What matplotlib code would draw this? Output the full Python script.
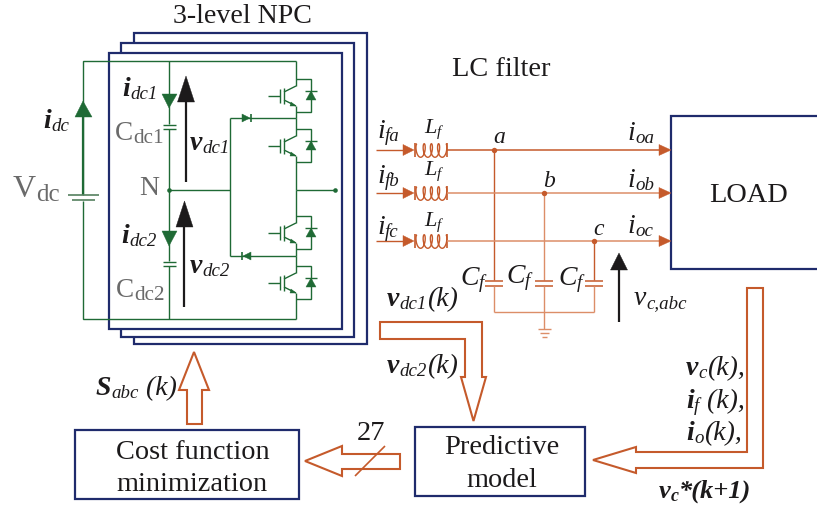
import numpy as np
import matplotlib
matplotlib.use("Agg")
import matplotlib.pyplot as plt
from matplotlib.patches import Polygon, Rectangle

W, H = 817, 506
NAVY, GREEN, ORANGE, LORANGE, BLACK, GREY = "#1f2b6c", "#1f6a35", "#c55a2b", "#dc8e68", "#1c1a1b", "#6a6a6a"

title_text = "3-level NPC"
filter_text = "LC filter"
load_text = "LOAD"
cost_text = ["Cost function", "minimization"]
model_text = ["Predictive", "model"]
bits_text = "27"

plt.rcParams["font.family"] = ["Liberation Serif", "DejaVu Serif"]
fig = plt.figure(figsize=(W / 100, H / 100), dpi=100)
ax = fig.add_axes([0, 0, 1, 1])
ax.set_xlim(0, W)
ax.set_ylim(H, 0)
ax.axis("off")
rend = fig.canvas.get_renderer()


def line(xs, ys, c=GREEN, lw=1.0, z=3):
    ax.plot(xs, ys, color=c, lw=lw, solid_capstyle="butt", solid_joinstyle="miter", zorder=z)


def tri(pts, c=GREEN, z=4):
    ax.add_patch(Polygon(pts, closed=True, fc=c, ec=c, lw=0.3, zorder=z))


def dot(x, y, c=GREEN, s=2.2):
    ax.plot([x], [y], "o", color=c, ms=s * 1.5, mew=0, zorder=5)


def rich(x, y, parts, size=16, color=BLACK, ratio=0.68):
    """Place text pieces one after the other; baseline at y, sub pieces are smaller and lowered."""
    for txt, st, sub in parts:
        fs = size * (ratio if sub else 1)
        dy = size * 0.16 if sub else 0
        t = ax.text(x, y + dy, txt, fontsize=fs, color=color, va="baseline", ha="left",
                    fontstyle="normal" if st == "r" else "italic",
                    fontweight="bold" if st == "b" else "normal", zorder=6)
        x = t.get_window_extent(rend).x1 + 0.3


# stacked converter frames
for (x0, y0, x1, y1) in [(134, 34, 367, 345), (121, 44, 354, 338), (109, 54, 342, 330)]:
    ax.add_patch(Rectangle((x0, y0), x1 - x0, y1 - y0, fc="white", ec=NAVY, lw=1.6, zorder=2))

# DC side
line([83, 83, 296], [196, 62, 62], lw=1.0)
line([83, 83, 296], [202, 320, 320], lw=1.0)
line([83, 83], [196, 118], lw=1.6)
tri([(83, 102), (75, 118), (92, 118)])
line([68, 99], [196, 196], c="#55805f", lw=1.2)
line([72, 95], [201, 201], c="#55805f", lw=1.2)
line([169, 169], [62, 125], lw=1.0)
line([169, 169], [130, 262], lw=1.0)
line([169, 169], [267, 320], lw=1.0)
for yc in (126, 263):
    line([163, 176], [yc, yc], lw=1.0)
    line([163, 176], [yc + 4, yc + 4], lw=1.0)
tri([(169, 109), (162, 95), (177, 95)])
tri([(169, 247), (162, 232), (177, 232)])
dot(169, 191)
line([169, 230], [191, 191])
line([230, 230], [119, 257])
line([230, 296], [119, 119])
line([230, 296], [257, 257])
tri([(242, 115), (242, 123), (250, 119)])
line([251, 251], [115, 123], lw=1.2)
tri([(251, 253), (251, 261), (243, 257)])
line([242, 242], [253, 261], lw=1.2)
line([296, 335], [191, 191])
dot(335, 191)

# switches
for c, top, bot in [(97, 62, 119), (147, 119, 191), (234, 191, 257), (284, 257, 320)]:
    line([296, 296], [top, c - 10])
    line([296, 296], [c + 10, bot])
    line([268, 280], [c, c])
    line([280, 280], [c - 7, c + 7])
    line([284, 284], [c - 8, c + 8])
    line([284, 296], [c - 4, c - 10])
    line([284, 296], [c + 4, c + 10])
    tri([(296, c + 10), (291, c + 6), (290, c + 10)])
    line([296, 311, 311, 296], [c - 17, c - 17, c + 16, c + 16])
    tri([(311, c - 5), (306, c + 4), (316, c + 4)])
    line([305, 317], [c - 5, c - 5], lw=1.0)

# black voltage arrows
for x, tip, base, end, hw in [(186, 77, 103, 183, 8.5), (184.5, 202, 228, 308, 8.5), (619, 254, 271, 323, 8.5)]:
    line([x, x], [base, end], c=BLACK, lw=1.6, z=4)
    tri([(x, tip), (x - hw, base), (x + hw, base)], c=BLACK)

# filter branches
branch_y = [151, 194, 242]
node_x = [494, 544, 594]
for y, nx in zip(branch_y, node_x):
    line([376, 404], [y, y], c=ORANGE)
    tri([(414, y), (403, y - 5.5), (403, y + 5.5)], c=ORANGE)
    t = np.linspace(0, 8 * np.pi, 200)
    xs = 417 + 3.6 * t / np.pi - 2.6 * np.sin(t)
    ys = y + 0.5 - 6.8 * np.cos(t)
    line(xs, ys, c=ORANGE, lw=1.0)
    line([415, 415], [y - 7, y + 7], c=ORANGE, lw=1.2)
    line([447, 447], [y - 7, y + 7], c=ORANGE, lw=1.2)
    line([447, 660], [y, y], c=LORANGE if y != 151 else ORANGE, lw=1.1)
    tri([(671, y), (659, y - 5.5), (659, y + 5.5)], c=ORANGE)
    dot(nx, y, c=ORANGE, s=2.6)
    line([nx, nx], [y, 281], c=LORANGE if nx == 544 else ORANGE, lw=1.0)
    line([nx - 9, nx + 9], [282, 282], c=ORANGE, lw=1.1)
    line([nx - 9, nx + 9], [286.5, 286.5], c=ORANGE, lw=1.1)
    if nx != 544:
        line([nx, nx], [287, 313], c=LORANGE, lw=1.0)
line([494, 594], [313, 313], c=LORANGE, lw=1.0)
line([544, 544], [287, 330], c=LORANGE, lw=1.0)
line([538, 551], [330, 330], c=LORANGE, lw=1.0)
line([540, 549], [334, 334], c=LORANGE, lw=1.0)
line([542, 547], [337.5, 337.5], c=LORANGE, lw=1.0)

# boxes
line([W + 2, 671, 671, W + 2], [117, 117, 270, 270], c=NAVY, lw=1.6)
ax.add_patch(Rectangle((75, 431), 224, 69, fc="white", ec=NAVY, lw=1.6, zorder=2))
ax.add_patch(Rectangle((415.5, 428), 169.5, 69, fc="white", ec=NAVY, lw=1.6, zorder=2))

# block arrows
blocks = [
    [(380, 323), (482, 323), (482, 378), (486, 378), (473.5, 422), (461, 378), (465, 378), (465, 340), (380, 340)],
    [(194, 353), (209, 391), (202, 391), (202, 425), (187, 425), (187, 391), (179, 391)],
    [(400, 455), (342, 455), (342, 447), (305, 462), (342, 477), (342, 470), (400, 470)],
    [(747, 289), (763, 289), (763, 469), (636, 469), (636, 474), (593, 461), (636, 448), (636, 453), (747, 453)],
]
for b in blocks:
    ax.add_patch(Polygon(b, closed=True, fc="white", ec=ORANGE, lw=1.5, joinstyle="miter", zorder=3))
line([355, 385], [477, 447], c=ORANGE, lw=1.2, z=4)

# plain text
def plain(x, y, s, size, color=BLACK):
    ax.text(x, y, s, fontsize=size, color=color, ha="center", va="baseline", zorder=6)


plain(242, 23, title_text, 20.2)
plain(501, 76, filter_text, 20.4)
plain(749, 202, load_text, 20.4)
plain(193, 459, cost_text[0], 20.4)
plain(192, 491, cost_text[1], 20.4)
plain(502, 454, model_text[0], 20.4)
plain(502, 487, model_text[1], 20.4)
plain(371, 440, bits_text, 20.4)

# formula labels
rich(43, 128, [("i", "b", 0), ("dc", "i", 1)], 20)
rich(122, 96, [("i", "b", 0), ("dc1", "i", 1)], 20)
rich(121, 243, [("i", "b", 0), ("dc2", "i", 1)], 20)
rich(190, 150, [("v", "b", 0), ("dc1", "i", 1)], 20)
rich(190, 273, [("v", "b", 0), ("dc2", "i", 1)], 20)
rich(13, 197, [("V", "r", 0), ("dc", "r", 1)], 23, GREY, 0.78)
rich(115, 140, [("C", "r", 0), ("dc1", "r", 1)], 19.5, GREY, 0.78)
rich(116, 297, [("C", "r", 0), ("dc2", "r", 1)], 19.5, GREY, 0.78)
plain(149, 195, "N", 20, GREY)

for y, s in zip([138, 183, 234], ["fa", "fb", "fc"]):
    rich(377, y, [("i", "i", 0), (s, "i", 1)], 20)
for y in [133, 175, 226]:
    rich(424, y, [("L", "i", 0), ("f", "i", 1)], 16)
for x, y, s in zip([493, 543, 593], [143, 187, 235], ["a", "b", "c"]):
    rich(x, y, [(s, "i", 0)], 17)
for y, s in zip([140, 187, 233], ["oa", "ob", "oc"]):
    rich(627, y, [("i", "i", 0), (s, "i", 1)], 20)
for x, y in zip([460, 506, 558], [285, 283, 285]):
    rich(x, y, [("C", "i", 0), ("f", "i", 1)], 20)
rich(634, 305, [("v", "i", 0), ("c,abc", "i", 1)], 20)
rich(387, 306, [("v", "b", 0), ("dc1", "i", 1), ("(k)", "i", 0)], 20)
rich(387, 373, [("v", "b", 0), ("dc2", "i", 1), ("(k)", "i", 0)], 20)
rich(96, 395, [("S", "b", 0), ("abc", "i", 1), (" (k)", "i", 0)], 20)
rich(686, 375, [("v", "b", 0), ("c", "i", 1), ("(k),", "i", 0)], 20)
rich(686, 408, [("i", "b", 0), ("f", "i", 1), (" (k),", "i", 0)], 20)
rich(686, 440, [("i", "b", 0), ("o", "i", 1), ("(k),", "i", 0)], 20)
rich(659, 498, [("v", "b", 0), ("c", "b", 1), ("*(k+1)", "b", 0)], 19)

fig.savefig("out.png", dpi=100)
